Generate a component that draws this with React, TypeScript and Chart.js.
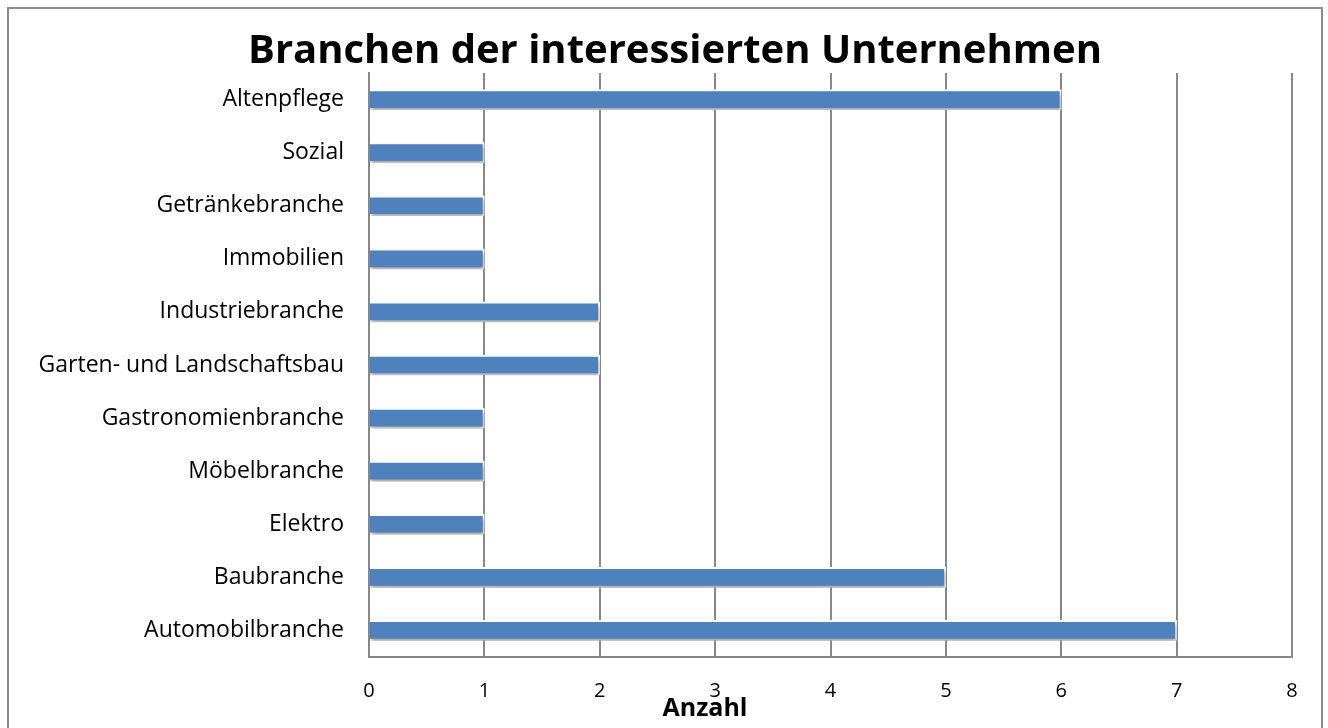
import React, { useEffect, useRef } from "react";
import { Chart, registerables } from "chart.js";

Chart.register(...registerables);

const chartTitle = "Branchen der interessierten Unternehmen";
const axisTitle = "Anzahl";
const categories = [
  "Altenpflege",
  "Sozial",
  "Getränkebranche",
  "Immobilien",
  "Industriebranche",
  "Garten- und Landschaftsbau",
  "Gastronomienbranche",
  "Möbelbranche",
  "Elektro",
  "Baubranche",
  "Automobilbranche",
];
const counts = [6, 1, 1, 1, 2, 2, 1, 1, 1, 5, 7];
const xMin = 0;
const xMax = 8;

const FONT = "'Open Sans', Lato, sans-serif";

export default function App() {
  const ref = useRef<HTMLCanvasElement | null>(null);

  useEffect(() => {
    document.body.style.margin = "0";
    document.body.style.overflow = "hidden";
    const canvas = ref.current;
    if (!canvas) return;

    const shadowPlugin = {
      id: "barShadow",
      beforeDatasetsDraw(chart: any) {
        const ctx = chart.ctx;
        ctx.save();
        ctx.shadowColor = "rgba(0,0,0,0.35)";
        ctx.shadowOffsetX = 1;
        ctx.shadowOffsetY = 3;
        ctx.shadowBlur = 4;
      },
      afterDatasetsDraw(chart: any) {
        chart.ctx.restore();
      },
    };

    const framePlugin = {
      id: "frame",
      afterDraw(chart: any) {
        const ctx = chart.ctx;
        const a = chart.chartArea;
        ctx.save();
        ctx.strokeStyle = "#8c8c8c";
        ctx.lineWidth = 2;
        ctx.strokeRect(8, 8, 1314, 760);
        ctx.fillStyle = "#000";
        ctx.textAlign = "center";
        ctx.textBaseline = "alphabetic";
        ctx.font = `bold 40px ${FONT}`;
        ctx.fillText(chartTitle, 675, 63);
        ctx.font = `bold 25px ${FONT}`;
        ctx.textBaseline = "middle";
        ctx.fillText(axisTitle, a.left + (a.right - a.left) * 0.364, 709);
        ctx.restore();
      },
    };

    const chart = new Chart(canvas, {
      type: "bar",
      data: {
        labels: categories,
        datasets: [
          {
            data: counts,
            backgroundColor: "#4f81bd",
            borderColor: "#ffffff",
            borderWidth: 2,
            borderSkipped: "start",
            barThickness: 20,
          },
        ],
      },
      options: {
        indexAxis: "y",
        animation: false,
        responsive: false,
        layout: { padding: { left: 0, right: 36, top: 73, bottom: 0 } },
        plugins: {
          legend: { display: false },
          tooltip: { enabled: false },
          title: { display: false },
        },
        scales: {
          x: {
            min: xMin,
            max: xMax,
            ticks: {
              stepSize: 1,
              color: "#000",
              font: { family: FONT, size: 20 },
              padding: 22,
            },
            grid: { color: "#888", lineWidth: 2, drawTicks: false },
            border: { color: "#888", width: 2 },
            afterFit(scale: any) {
              scale.height = 71;
            },
          },
          y: {
            ticks: {
              color: "#000",
              font: { family: FONT, size: 23 },
              padding: 25,
            },
            grid: { display: false, drawTicks: false },
            border: { color: "#888", width: 2 },
            afterFit(scale: any) {
              scale.width = 369;
            },
          },
        },
      },
      plugins: [shadowPlugin, framePlugin],
    } as any);

    return () => chart.destroy();
  }, []);

  return (
    <div style={{ position: "absolute", left: 0, top: 0, width: 1328, height: 728 }}>
      <canvas ref={ref} width={1328} height={728} style={{ display: "block" }} />
    </div>
  );
}
